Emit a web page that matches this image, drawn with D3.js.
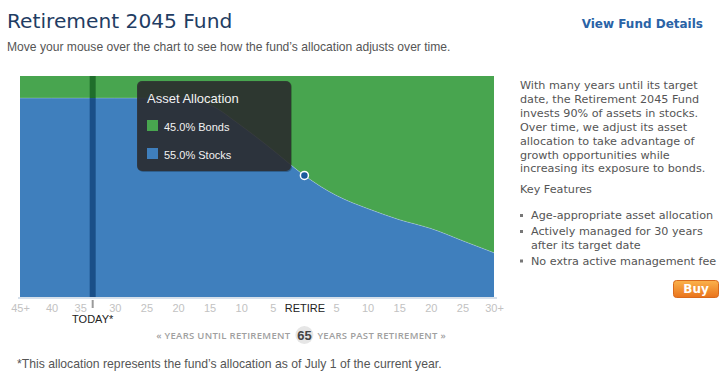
<!DOCTYPE html>
<html>
<head>
<meta charset="utf-8">
<script src="https://cdn.jsdelivr.net/npm/d3@7"></script>
<style>
  html, body { margin: 0; padding: 0; background: #fff; }
  svg { display: block; }
  .sans { font-family: "Liberation Sans", Arial, sans-serif; }
  .verd { font-family: "DejaVu Sans", Verdana, sans-serif; }
</style>
</head>
<body>
<div id="chart"></div>
<script>
// years relative to retirement (negative = before)
const years = [-45, -40, -35, -30, -25, -20, -15, -10, -5, 0, 5, 10, 15, 20, 25, 30];
// percent of assets in stocks at each point
const stocks = [90, 90, 90, 90, 90, 90, 87, 77.5, 66.5, 55, 46, 40, 35, 31, 25.5, 20];
const tickLabels = ["45+", "40", "35", "30", "25", "20", "15", "10", "5", "RETIRE", "5", "10", "15", "20", "25", "30+"];
const todayYears = -33.5;
const hoverYears = 0;
const yearsAfter = 65;

const sideText = [
  "With many years until its target",
  "date, the Retirement 2045 Fund",
  "invests 90% of assets in stocks.",
  "Over time, we adjust its asset",
  "allocation to take advantage of",
  "growth opportunities while",
  "increasing its exposure to bonds."
];
const features = [
  ["Age-appropriate asset allocation"],
  ["Actively managed for 30 years", "after its target date"],
  ["No extra active management fee"]
];

const green = "#48a54f", blue = "#3f7fbd";

const data = years.map((y, i) => ({ yr: y, stocks: stocks[i], bonds: 100 - stocks[i] }));

const svg = d3.select("#chart").append("svg")
    .attr("width", 725)
    .attr("height", 386);

// header
svg.append("text").attr("class", "verd")
    .attr("x", 7).attr("y", 28)
    .attr("font-size", 20.2).attr("fill", "#1f3d63")
    .text("Retirement 2045 Fund");
svg.append("text").attr("class", "verd")
    .attr("x", 703).attr("y", 28).attr("text-anchor", "end")
    .attr("font-size", 12).attr("font-weight", "bold").attr("fill", "#2a63a6")
    .text("View Fund Details");
svg.append("text").attr("class", "sans")
    .attr("x", 7).attr("y", 51)
    .attr("font-size", 12.1).attr("fill", "#555")
    .text("Move your mouse over the chart to see how the fund\u2019s allocation adjusts over time.");

// chart
const x = d3.scaleLinear().domain([-45, 30]).range([20, 494]);
const y = d3.scaleLinear().domain([0, 100]).range([297, 76]);

const g = svg.append("g");

const bondArea = d3.area()
    .x(d => x(d.yr))
    .y0(d => y(d.stocks))
    .y1(y(100))
    .curve(d3.curveMonotoneX);
const stockArea = d3.area()
    .x(d => x(d.yr))
    .y0(y(0))
    .y1(d => y(d.stocks))
    .curve(d3.curveMonotoneX);

g.append("path").datum(data).attr("d", bondArea).attr("fill", green);
g.append("path").datum(data).attr("d", stockArea).attr("fill", blue);
g.append("path").datum(data)
    .attr("d", d3.line().x(d => x(d.yr)).y(d => y(d.stocks)).curve(d3.curveMonotoneX))
    .attr("fill", "none").attr("stroke", "rgba(255,255,255,0.25)").attr("stroke-width", 1);

// today line
const todayStocks = d3.scaleLinear().domain(years).range(stocks)(todayYears);
g.append("rect")
    .attr("x", x(todayYears) - 3).attr("width", 6)
    .attr("y", y(100)).attr("height", y(todayStocks) - y(100))
    .attr("fill", "#1f6e2b");
g.append("rect")
    .attr("x", x(todayYears) - 3).attr("width", 6)
    .attr("y", y(todayStocks)).attr("height", y(0) - y(todayStocks))
    .attr("fill", "#1a4f88");

// baseline
g.append("line")
    .attr("x1", 18).attr("x2", 497)
    .attr("y1", y(0) + 1).attr("y2", y(0) + 1)
    .attr("stroke", "#c8d6e4").attr("stroke-width", 1.5);

// x axis
const axis = g.append("g")
    .attr("class", "sans")
    .attr("transform", `translate(0,${y(0)})`)
    .call(d3.axisBottom(x).tickValues(years).tickSize(0).tickPadding(7)
        .tickFormat((d, i) => tickLabels[i]));
axis.select(".domain").remove();
axis.selectAll("text")
    .attr("font-family", "Liberation Sans, Arial, sans-serif")
    .attr("font-size", 11)
    .attr("fill", (d, i) => tickLabels[i] === "RETIRE" ? "#222" : "#c2c2c2")
    // the label next to the today marker is nudged left, as in the original
    .attr("dx", d => Math.abs(x(d) - x(todayYears)) < 12 ? -3 : 0);

// today marker
g.append("line")
    .attr("x1", x(todayYears)).attr("x2", x(todayYears))
    .attr("y1", 300).attr("y2", 308)
    .attr("stroke", "#9a9a9a").attr("stroke-width", 2);
g.append("text").attr("class", "sans")
    .attr("x", x(todayYears)).attr("y", 323).attr("text-anchor", "middle")
    .attr("font-size", 11).attr("fill", "#222")
    .text("TODAY*");

// retirement slider bubble
const bx = x(0);
g.append("path")
    .attr("d", `M${bx - 7},333 L${bx},326 L${bx + 7},333 Z`)
    .attr("fill", "#e6e6e6");
g.append("circle").attr("cx", bx).attr("cy", 335).attr("r", 9).attr("fill", "#e6e6e6");
g.append("text").attr("class", "sans")
    .attr("x", bx).attr("y", 340).attr("text-anchor", "middle")
    .attr("font-size", 13).attr("font-weight", "bold").attr("fill", "#444")
    .text(yearsAfter);
g.append("text")
    .attr("x", bx - 14).attr("y", 339).attr("text-anchor", "end")
    .attr("font-family", "Open Sans, sans-serif").attr("font-size", 9.5)
    .attr("font-weight", 600).attr("letter-spacing", 0.3).attr("fill", "#a0a0a0")
    .text("\u00ab YEARS UNTIL RETIREMENT");
g.append("text")
    .attr("x", bx + 13).attr("y", 339)
    .attr("font-family", "Open Sans, sans-serif").attr("font-size", 9.5)
    .attr("font-weight", 600).attr("letter-spacing", 0.3).attr("fill", "#a0a0a0")
    .text("YEARS PAST RETIREMENT \u00bb");

// hover point + tooltip
const hov = data.find(d => d.yr === hoverYears);
const tip = g.append("g");
tip.append("rect")
    .attr("x", 138).attr("y", 82).attr("width", 154).attr("height", 90).attr("rx", 5)
    .attr("fill", "rgba(0,0,0,0.25)");
tip.append("rect")
    .attr("x", 137).attr("y", 81).attr("width", 154).attr("height", 90).attr("rx", 5)
    .attr("fill", "rgba(44,44,46,0.86)");
tip.append("text").attr("class", "sans")
    .attr("x", 147).attr("y", 103).attr("font-size", 13).attr("fill", "#f2f2f2")
    .text("Asset Allocation");
const rows = [
  { c: green, t: d3.format(".1f")(hov.bonds) + "% Bonds" },
  { c: blue, t: d3.format(".1f")(hov.stocks) + "% Stocks" }
];
rows.forEach((r, i) => {
  tip.append("rect").attr("x", 147).attr("y", 120 + i * 28).attr("width", 11).attr("height", 11).attr("fill", r.c);
  tip.append("text").attr("class", "sans")
      .attr("x", 164).attr("y", 131 + i * 28).attr("font-size", 11).attr("fill", "#f2f2f2")
      .text(r.t);
});
g.append("circle")
    .attr("cx", x(hov.yr)).attr("cy", y(hov.stocks)).attr("r", 4)
    .attr("fill", "#1b5b9c").attr("stroke", "#fff").attr("stroke-width", 1.5);

// side text
const side = svg.append("g").attr("class", "verd").attr("font-size", 11.2).attr("fill", "#555");
sideText.forEach((t, i) => {
  side.append("text").attr("x", 520).attr("y", 89 + i * 13.9).text(t);
});
side.append("text").attr("x", 520).attr("y", 193).text("Key Features");
let fy = 219;
features.forEach(f => {
  side.append("rect").attr("x", 520).attr("y", fy - 5).attr("width", 3).attr("height", 3).attr("fill", "#777");
  f.forEach((line, j) => {
    side.append("text").attr("x", 531).attr("y", fy + j * 13.5).text(line);
  });
  fy += f.length * 13.5 + 2.5;
});

// buy button
const grad = svg.append("defs").append("linearGradient")
    .attr("id", "buyg").attr("x1", 0).attr("y1", 0).attr("x2", 0).attr("y2", 1);
grad.append("stop").attr("offset", "0%").attr("stop-color", "#fbb24c");
grad.append("stop").attr("offset", "100%").attr("stop-color", "#e9731b");
svg.append("rect")
    .attr("x", 673.5).attr("y", 280.5).attr("width", 45).attr("height", 17).attr("rx", 3)
    .attr("fill", "url(#buyg)").attr("stroke", "#d8691c");
svg.append("text").attr("class", "verd")
    .attr("x", 696).attr("y", 293).attr("text-anchor", "middle")
    .attr("font-size", 12).attr("font-weight", "bold").attr("fill", "#fff")
    .text("Buy");

// footnote
svg.append("text").attr("class", "sans")
    .attr("x", 17).attr("y", 368).attr("font-size", 12.2).attr("fill", "#555")
    .text("*This allocation represents the fund\u2019s allocation as of July 1 of the current year.");
</script>
</body>
</html>
